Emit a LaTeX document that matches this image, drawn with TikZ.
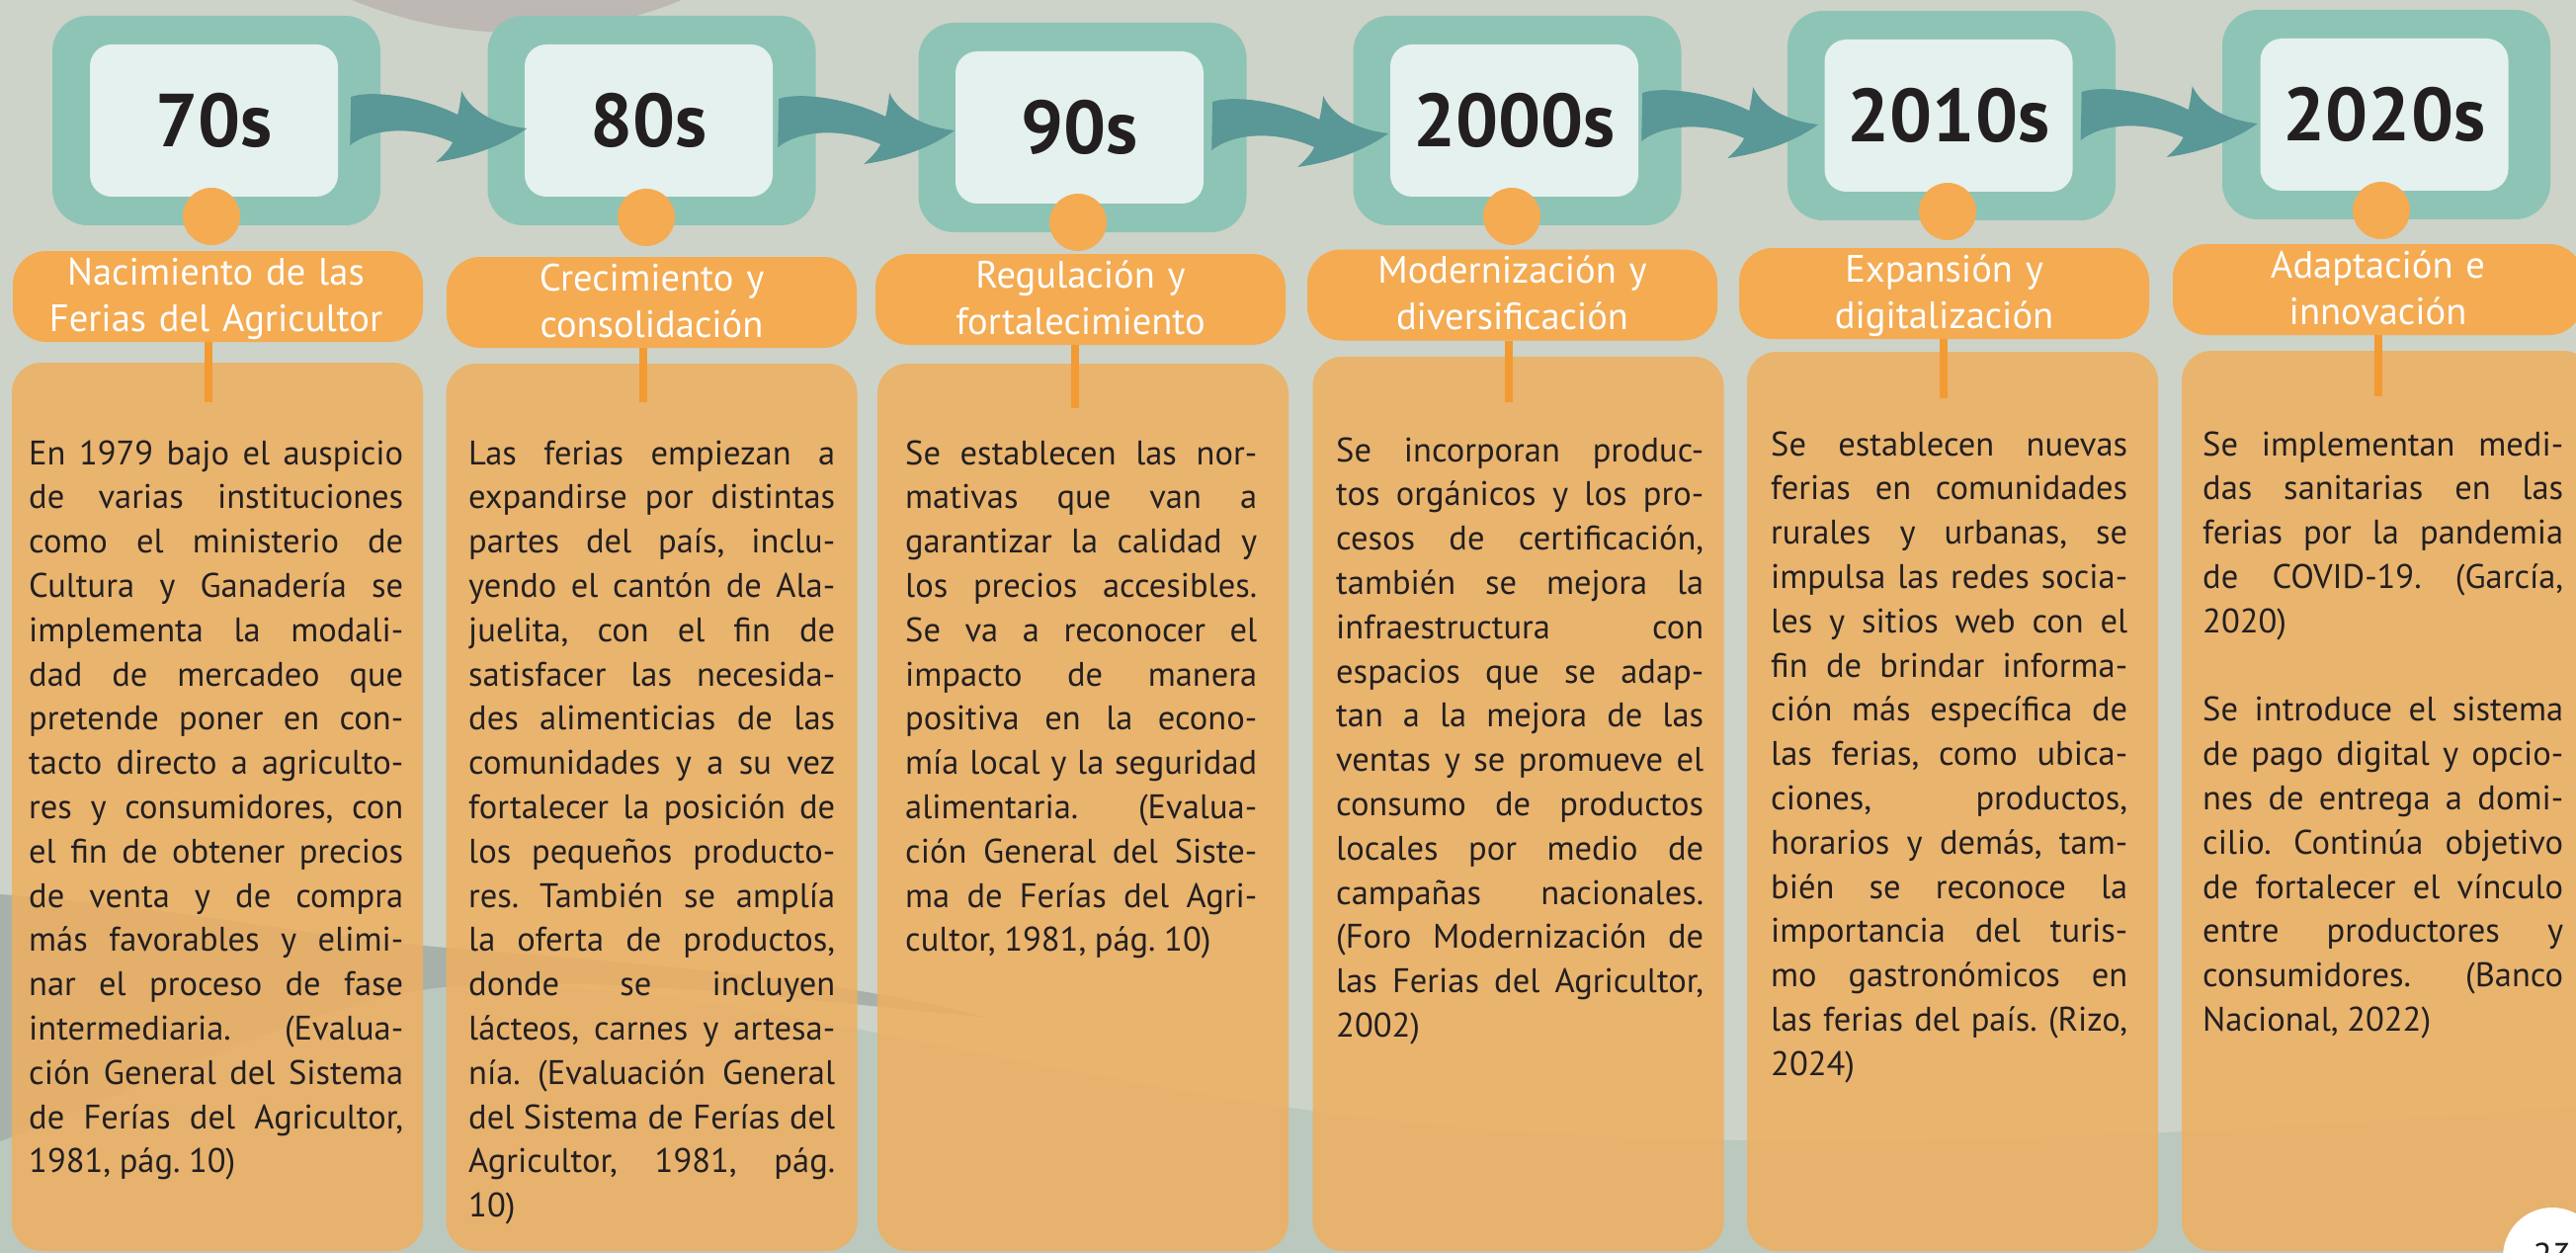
\documentclass[tikz,border=0pt]{standalone}
\usepackage{fontspec}
\setmainfont{PT Sans}
\usetikzlibrary{calc}
\definecolor{bg}{HTML}{CDD3C8}
\definecolor{blob}{HTML}{BDB8B3}
\definecolor{tealout}{HTML}{8EC4B6}
\definecolor{tealin}{HTML}{E4F1EE}
\definecolor{arrowc}{HTML}{5A9797}
\definecolor{orng}{HTML}{F4AB52}
\definecolor{bodyc}{HTML}{EEAF5F}
\definecolor{stemc}{HTML}{F29B32}
\definecolor{txt}{HTML}{231F20}
\definecolor{wavedark}{HTML}{A8B1A9}
\definecolor{wavegreen}{HTML}{BBC8BE}
\newcommand\bodysetup{\fontsize{34.5}{44.8}\selectfont\frenchspacing
  \spaceskip=.25em plus 3em minus .1em\relax\xspaceskip=\spaceskip
  \tolerance=10000 \pretolerance=10000 \hbadness=10000 \hfuzz=30pt\relax}
\tikzset{
  outerbox/.style={fill=tealout, rounded corners=36pt, minimum width=332pt, minimum height=212pt, inner sep=0pt},
  innerbox/.style={fill=tealin, rounded corners=22pt, minimum width=251pt, minimum height=154pt, inner sep=0pt, text=txt, font=\bfseries\fontsize{76}{80}\selectfont},
  decdot/.style={circle, fill=orng, minimum size=58pt, inner sep=0pt},
  titlebox/.style={fill=orng, rounded corners=34pt, minimum width=415pt, minimum height=92pt, inner sep=0pt},
  titletext/.style={anchor=base, text width=415pt, align=center, inner sep=0pt, text=white, font=\fontsize{38.5}{47}\selectfont},
  bodybox/.style={fill=bodyc, fill opacity=0.85, rounded corners=30pt, minimum width=416pt, inner sep=0pt},
  bodytext/.style={anchor=base west, inner sep=0pt, text=txt, font=\bodysetup, align=justify},
  stemline/.style={draw=stemc, line width=8pt},
  pics/flowarrow/.style={code={
    \fill[arrowc] (0,0) .. controls (20,-7) and (70,-1) .. (108,18)
      .. controls (110,10) and (111,2) .. (112,-6)
      .. controls (120,12) and (142,28) .. (178,32)
      .. controls (150,52) and (115,62) .. (86,66)
      .. controls (95,58) and (100,52) .. (103,46)
      .. controls (70,31) and (25,29) .. (-1,49) -- cycle;
  }}
}
\begin{document}
\begin{tikzpicture}[x=1pt,y=-1pt]
\useasboundingbox (0,0) rectangle (2607,1268);
\clip (0,0) rectangle (2607,1268);
\fill[bg] (0,0) rectangle (2607,1268);
% background shapes
\fill[blob] (523,-403) circle (436);
\fill[wavegreen] (0,1155) .. controls (150,1100) and (300,1020) .. (440,1000)
  .. controls (700,985) and (900,1060) .. (1300,1120)
  .. controls (1700,1180) and (2200,1150) .. (2607,1120) -- (2607,1268) -- (0,1268) -- cycle;
\fill[wavedark] (0,905) .. controls (150,915) and (300,945) .. (440,958)
  .. controls (650,975) and (850,990) .. (1000,1030)
  .. controls (800,1010) and (600,985) .. (440,1000)
  .. controls (300,1020) and (150,1100) .. (0,1155) -- cycle;

% outer teal frames
\node[outerbox] (o1) at (219,122) {};
\node[outerbox] (o2) at (659.5,122) {};
\node[outerbox] (o3) at (1095.5,129) {};
\node[outerbox] (o4) at (1535.5,122) {};
\node[outerbox] (o5) at (1975,117) {};
\node[outerbox] (o6) at (2415,116) {};

% inner boxes with decades
\node[innerbox] (i1) at (216.5,122) {70s};
\node[innerbox] (i2) at (656.5,122) {80s};
\node[innerbox] (i3) at (1092.5,129) {90s};
\node[innerbox] (i4) at (1532.5,122) {2000s};
\node[innerbox] (i5) at (1972,117) {2010s};
\node[innerbox] (i6) at (2413,116) {2020s};

% arrows between decades
\pic (a1) at ($(i1.east)+(13,-24)$) {flowarrow};
\pic (a2) at ($(i2.east)+(6,-22)$) {flowarrow};
\pic (a3) at ($(i3.east)+(9,-26)$) {flowarrow};
\pic (a4) at ($(i4.east)+(4,-28)$) {flowarrow};
\pic (a5) at ($(i5.east)+(9,-24)$) {flowarrow};

% body boxes
\node[bodybox, minimum height=899pt] (b1) at (220,816.5) {};
\node[bodybox, minimum height=898pt] (b2) at (659.5,817) {};
\node[bodybox, minimum height=898pt] (b3) at (1096,817) {};
\node[bodybox, minimum height=905pt] (b4) at (1536.5,813.5) {};
\node[bodybox, minimum height=910pt] (b5) at (1976,811) {};
\node[bodybox, minimum height=911pt] (b6) at (2416,810.5) {};

% title boxes
\node[titlebox] (t1) at (220.5,300) {};
\node[titlebox] (t2) at (659.5,306) {};
\node[titlebox] (t3) at (1093.5,303) {};
\node[titlebox] (t4) at (1530.5,298.5) {};
\node[titlebox] (t5) at (1967.5,297) {};
\node[titlebox] (t6) at (2406.5,293) {};

% stems
\coordinate (s1) at (211,407);
\coordinate (s2) at (651,407);
\coordinate (s3) at (1088,413);
\coordinate (s4) at (1527,407);
\coordinate (s5) at (1967,403);
\coordinate (s6) at (2407,401);
\draw[stemline] (t1.south -| s1) -- (s1);
\draw[stemline] (t2.south -| s2) -- (s2);
\draw[stemline] (t3.south -| s3) -- (s3);
\draw[stemline] (t4.south -| s4) -- (s4);
\draw[stemline] (t5.south -| s5) -- (s5);
\draw[stemline] (t6.south -| s6) -- (s6);

% dots
\node[decdot] (c1) at (214,219) {};
\node[decdot] (c2) at (654,220) {};
\node[decdot] (c3) at (1091,225) {};
\node[decdot] (c4) at (1530,219) {};
\node[decdot] (c5) at (1971,214) {};
\node[decdot] (c6) at (2410,213) {};

% title texts
\node[titletext] (tt1) at ($(t1.center)+(-2,-12)$) {Nacimiento de las\\Ferias del Agricultor};
\node[titletext] (tt2) at ($(t2.center)+(0,-12)$) {Crecimiento y\\consolidación};
\node[titletext] (tt3) at ($(t3.center)+(0,-12)$) {Regulación y\\fortalecimiento};
\node[titletext] (tt4) at ($(t4.center)+(0,-12)$) {Modernización y\\diversificación};
\node[titletext] (tt5) at ($(t5.center)+(0,-12)$) {Expansión y\\digitalización};
\node[titletext] (tt6) at ($(t6.center)+(0,-12)$) {Adaptación e\\innovación};

% body texts
\node[bodytext, text width=379pt] (x1) at (29,470) {En 1979 bajo el auspicio\linebreak
de varias instituciones\linebreak
como el ministerio de\linebreak
Cultura y Ganadería se\linebreak
implementa la modali-\linebreak
dad de mercadeo que\linebreak
pretende poner en con-\linebreak
tacto directo a agriculto-\linebreak
res y consumidores, con\linebreak
el fin de obtener precios\linebreak
de venta y de compra\linebreak
más favorables y elimi-\linebreak
nar el proceso de fase\linebreak
intermediaria. (Evalua-\linebreak
ción General del Sistema\linebreak
de Ferías del Agricultor,\linebreak
1981, pág. 10)};

\node[bodytext, text width=371pt] (x2) at (474,470) {Las ferias empiezan a\linebreak
expandirse por distintas\linebreak
partes del país, inclu-\linebreak
yendo el cantón de Ala-\linebreak
juelita, con el fin de\linebreak
satisfacer las necesida-\linebreak
des alimenticias de las\linebreak
comunidades y a su vez\linebreak
fortalecer la posición de\linebreak
los pequeños producto-\linebreak
res. También se amplía\linebreak
la oferta de productos,\linebreak
donde se incluyen\linebreak
lácteos, carnes y artesa-\linebreak
nía. (Evaluación General\linebreak
del Sistema de Ferías del\linebreak
Agricultor, 1981, pág.\linebreak
10)};

\node[bodytext, text width=356pt] (x3) at (916,470) {Se establecen las nor-\linebreak
mativas que van a\linebreak
garantizar la calidad y\linebreak
los precios accesibles.\linebreak
Se va a reconocer el\linebreak
impacto de manera\linebreak
positiva en la econo-\linebreak
mía local y la seguridad\linebreak
alimentaria. (Evalua-\linebreak
ción General del Siste-\linebreak
ma de Ferías del Agri-\linebreak
cultor, 1981, pág. 10)};

\node[bodytext, text width=372pt] (x4) at (1352,467) {Se incorporan produc-\linebreak
tos orgánicos y los pro-\linebreak
cesos de certificación,\linebreak
también se mejora la\linebreak
infraestructura con\linebreak
espacios que se adap-\linebreak
tan a la mejora de las\linebreak
ventas y se promueve el\linebreak
consumo de productos\linebreak
locales por medio de\linebreak
campañas nacionales.\linebreak
(Foro Modernización de\linebreak
las Ferias del Agricultor,\linebreak
2002)};

\node[bodytext, text width=361pt] (x5) at (1792,461) {Se establecen nuevas\linebreak
ferias en comunidades\linebreak
rurales y urbanas, se\linebreak
impulsa las redes socia-\linebreak
les y sitios web con el\linebreak
fin de brindar informa-\linebreak
ción más específica de\linebreak
las ferias, como ubica-\linebreak
ciones, productos,\linebreak
horarios y demás, tam-\linebreak
bién se reconoce la\linebreak
importancia del turis-\linebreak
mo gastronómicos en\linebreak
las ferias del país. (Rizo,\linebreak
2024)};

\node[bodytext, text width=365pt] (x6) at (2229,461) {Se implementan medi-\linebreak
das sanitarias en las\linebreak
ferias por la pandemia\linebreak
de COVID-19. (García,\linebreak
2020)\par\mbox{}\par
Se introduce el sistema\linebreak
de pago digital y opcio-\linebreak
nes de entrega a domi-\linebreak
cilio. Continúa objetivo\linebreak
de fortalecer el vínculo\linebreak
entre productores y\linebreak
consumidores. (Banco\linebreak
Nacional, 2022)};

% page number
\node[circle, fill=white, minimum size=100pt, inner sep=0pt] (pg) at (2583,1272) {};
\node[anchor=base, inner sep=0pt, text=txt, font=\fontsize{36}{40}\selectfont] (pgn) at (2583,1283) {23};
\end{tikzpicture}
\end{document}
